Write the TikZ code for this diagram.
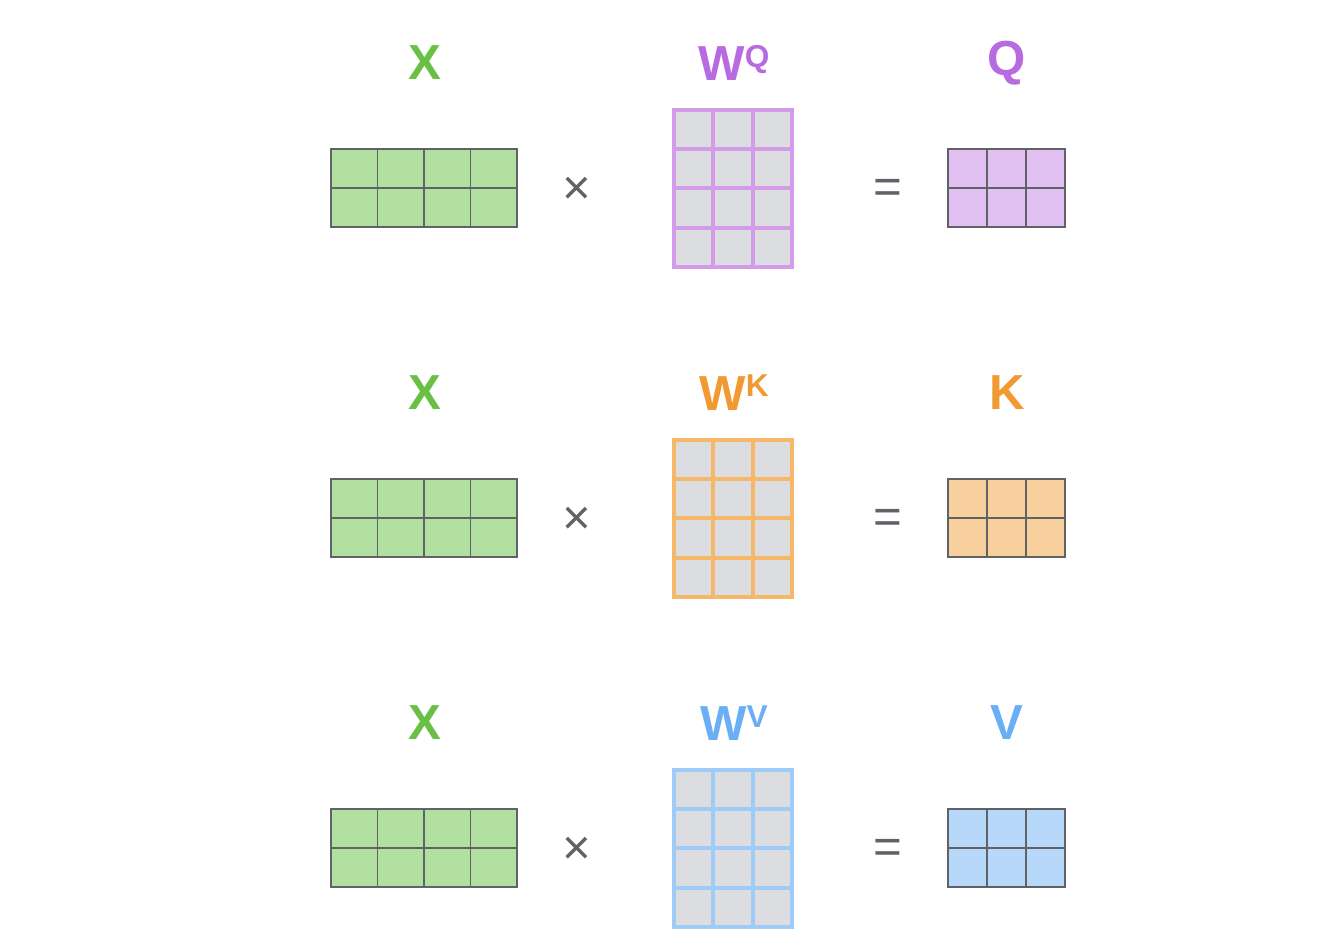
\documentclass[tikz,border=0pt]{standalone}
\usepackage{fontspec}
\setmainfont{Liberation Sans}
\usetikzlibrary{positioning}

\definecolor{xgreen}{HTML}{6ABF45}
\definecolor{xfill}{HTML}{B1DFA0}
\definecolor{qtext}{HTML}{B86BE0}
\definecolor{qfill}{HTML}{E2C0F2}
\definecolor{qline}{HTML}{D49BEA}
\definecolor{ktext}{HTML}{F19A33}
\definecolor{kfill}{HTML}{F8D09E}
\definecolor{kline}{HTML}{F6B868}
\definecolor{vtext}{HTML}{6AAEF6}
\definecolor{vfill}{HTML}{B8D8FA}
\definecolor{vline}{HTML}{9FCBF8}
\definecolor{wfill}{HTML}{DCDDE0}
\definecolor{opgray}{HTML}{5F6368}

\begin{document}
\begin{tikzpicture}[x=0.02cm,y=-0.02cm,
  lab/.style={inner sep=0pt, font=\fontsize{28}{30}\selectfont\bfseries},
  oper/.style={inner sep=0pt, text=opgray, font=\fontsize{28}{30}\selectfont},
  thincell/.style={draw=opgray, line width=0.9pt},
  thickcell/.style={line width=2.2pt}]

\useasboundingbox (0,0) rectangle (1330,944);

% --- Tre righe: Q, K, V
\foreach \r/\nm/\tc/\fc/\lc in {0/Q/qtext/qfill/qline, 1/K/ktext/kfill/kline, 2/V/vtext/vfill/vline}{
  \pgfmathsetmacro{\dy}{330*\r}

  % --- Etichette
  \node[lab, text=xgreen] (x\nm) at (425,63+\dy) {X};
  \node[lab, text=\tc] (w\nm) at (734,63+\dy) {W\raisebox{0.28em}{\fontsize{18}{18}\selectfont\nm}};
  \node[lab, text=\tc] (\nm) at (1007,63+\dy) {\nm};

  % --- Matrice X (2 x 4)
  \foreach \i in {0,...,3}
    \foreach \j in {0,1}
      \filldraw[thincell, fill=xfill] (331+46.5*\i,149+\dy+39*\j) rectangle ++(46.5,39);

  % --- Segni
  \node[oper] (times\nm) at (577,191+\dy) {×};
  \node[oper] (eq\nm) at (888,191+\dy) {=};

  % --- Matrice W (4 x 3)
  \foreach \i in {0,1,2}
    \foreach \j in {0,...,3}
      \filldraw[thickcell, draw=\lc, fill=wfill] (674+39.3*\i,110+\dy+39.2*\j) rectangle ++(39.3,39.2);

  % --- Matrice risultato (2 x 3)
  \foreach \i in {0,1,2}
    \foreach \j in {0,1}
      \filldraw[thincell, fill=\fc] (948+39*\i,149+\dy+39*\j) rectangle ++(39,39);
}

\end{tikzpicture}
\end{document}
